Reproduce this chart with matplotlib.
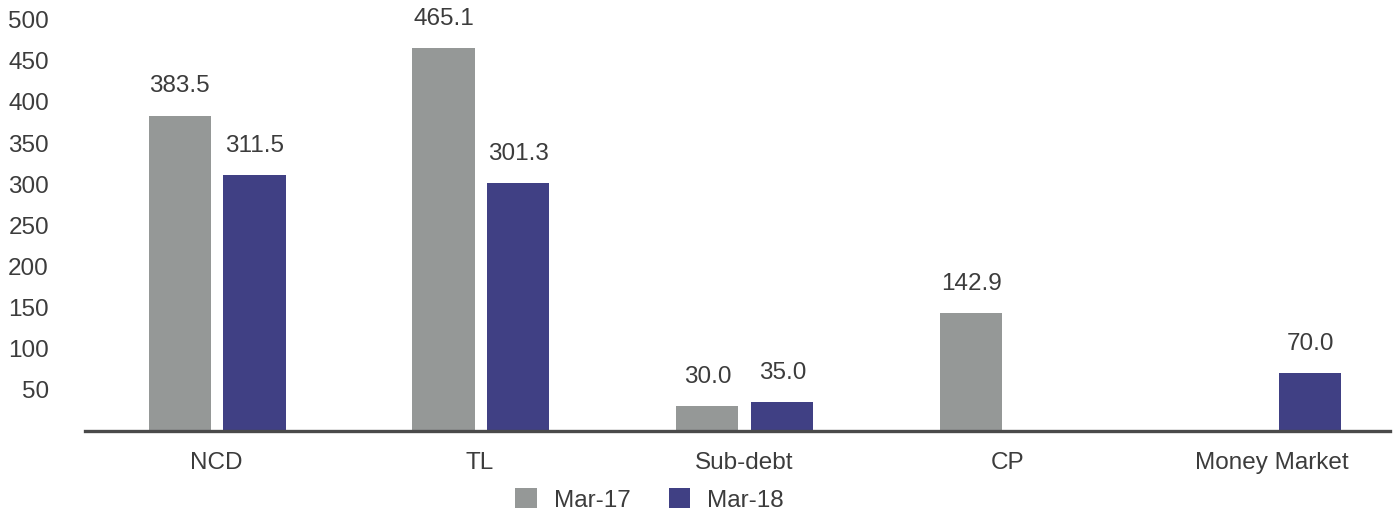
import numpy as np
import matplotlib.pyplot as plt
from matplotlib.patches import Patch

categories = ["NCD", "TL", "Sub-debt", "CP", "Money Market"]
mar17 = [383.5, 465.1, 30.0, 142.9, np.nan]
mar18 = [311.5, 301.3, 35.0, np.nan, 70.0]
y_ticks = [50, 100, 150, 200, 250, 300, 350, 400, 450, 500]

GRAY = "#959897"
BLUE = "#404084"
TXT = "#3c3c3c"
FS = 17.5

plt.rcParams.update({"font.family": ["Liberation Sans", "DejaVu Sans"],
                     "font.size": FS})


def main():
    fig = plt.figure(figsize=(13.94, 5.16), dpi=100)
    ax = fig.add_axes([0.061, 0.165, 0.936, 0.835])

    x = np.arange(len(categories))
    w = 0.235
    off = 0.142
    b1 = ax.bar(x - off + 0.004, mar17, w, color=GRAY)
    b2 = ax.bar(x + off + 0.004, mar18, w, color=BLUE)

    # value labels above each bar, skip the missing ones
    for bars, vals in ((b1, mar17), (b2, mar18)):
        for rect, v in zip(bars, vals):
            if np.isnan(v):
                continue
            ax.annotate(f"{v:.1f}", (rect.get_x() + rect.get_width() / 2, v),
                        xytext=(0, 13), textcoords="offset points",
                        ha="center", va="bottom", color=TXT, fontsize=FS)

    ax.set_xlim(-0.496, 4.447)
    ax.set_ylim(0, 524)
    ax.set_xticks(x)
    ax.set_xticklabels(categories)
    ax.set_yticks(y_ticks)
    ax.tick_params(axis="y", length=0, pad=26, labelcolor=TXT, labelsize=FS)
    ax.tick_params(axis="x", length=0, pad=15, labelcolor=TXT, labelsize=FS)
    for s in ("top", "right", "left"):
        ax.spines[s].set_visible(False)
    ax.spines["bottom"].set_color("#4a4a4a")
    ax.spines["bottom"].set_linewidth(2.4)
    ax.spines["bottom"].set_zorder(5)

    handles = [Patch(facecolor=GRAY, label="Mar-17"),
               Patch(facecolor=BLUE, label="Mar-18")]
    fig.legend(handles=handles, loc="center", bbox_to_anchor=(0.466, 0.031),
               ncol=2, frameon=False, handlelength=0.9, handleheight=0.9,
               handletextpad=0.7, columnspacing=1.55, fontsize=FS,
               labelcolor=TXT)

    fig.savefig("out.png", dpi=100)
    plt.close()


if __name__ == "__main__":
    main()
